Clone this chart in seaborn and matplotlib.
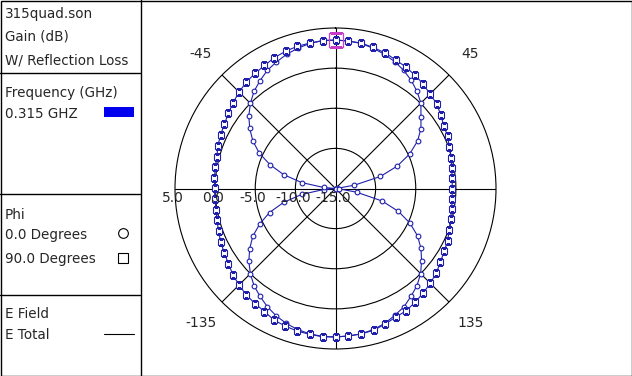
import numpy as np
import pandas as pd
import matplotlib
matplotlib.use("Agg")
import matplotlib.pyplot as plt
from matplotlib.lines import Line2D
from matplotlib.patches import Rectangle
import seaborn as sns

# theta (deg) from -180 to 180, step 5
THETA_DEG = list(range(-180, 185, 5))

# Phi = 0.0 deg (circles)
GAIN_PHI0 = [
    3.5, 3.5, 3.4, 3.2, 2.9, 2.5, 2.0, 1.4, 0.8, 0.0,
    -0.9, -1.95, -3.1, -4.6, -6.25, -8.3, -10.7, -13.5, -15.0, -13.5,
    -10.7, -8.3, -6.3, -4.5, -3.1, -1.95, -0.9, 0.0, 0.8, 1.4,
    2.0, 2.4, 2.8, 3.1, 3.35, 3.5, 3.5, 3.45, 3.35, 3.1,
    2.8, 2.45, 2.0, 1.45, 0.8, 0.05, -1.1, -2.0, -3.2, -4.8,
    -6.8, -9.2, -12.6, -14.8, -15.0, -14.5, -12.3, -9.0, -6.65, -4.75,
    -3.2, -2.0, -1.0, 0.0, 0.8, 1.4, 2.04, 2.45, 2.9, 3.2,
    3.4, 3.45, 3.5,
]

# Phi = 90.0 deg (squares)
GAIN_PHI90 = [
    3.5, 3.55, 3.45, 3.4, 3.25, 3.1, 2.7, 2.5, 2.3, 2.0,
    1.7, 1.3, 1.0, 0.8, 0.5, 0.3, 0.1, 0.1, 0.05, 0.15,
    0.2, 0.3, 0.6, 0.8, 1.0, 1.3, 1.65, 2.0, 2.3, 2.5,
    2.7, 3.0, 3.2, 3.35, 3.4, 3.5, 3.5, 3.45, 3.4, 3.2,
    3.0, 2.7, 2.5, 2.25, 2.0, 1.65, 1.45, 1.0, 0.6, 0.4,
    0.1, -0.1, -0.3, -0.4, -0.46, -0.4, -0.3, -0.15, 0.1, 0.4,
    0.65, 0.95, 1.4, 1.7, 2.0, 2.3, 2.6, 2.7, 3.0, 3.3,
    3.4, 3.45, 3.5,
]

RING_LEVELS = [5.0, 0.0, -5.0, -10.0, -15.0]
RING_LABELS = ["5.0", "0.0", "-5.0", "-10.0", "-15.0"]
ANGLE_TICKS = [-45, 45, -135, 135]
ANGLE_LABELS = ["-45", "45", "-135", "135"]

PANEL_TEXT = [
    ("315quad.son", 18),
    ("Gain (dB)", 41),
    ("W/ Reflection Loss", 65),
    ("Frequency (GHz)", 97),
    ("0.315 GHZ", 118),
    ("Phi", 219),
    ("0.0 Degrees", 239),
    ("90.0 Degrees", 263),
    ("E Field", 318),
    ("E Total", 339),
]

CURVE = "#1f1fac"
W, H = 632, 376

sns.set_style("white")
plt.rcParams["font.family"] = ["DejaVu Sans"]
plt.rcParams["font.size"] = 9.75

df = pd.DataFrame({
    "theta": np.deg2rad(THETA_DEG * 2),
    "gain": GAIN_PHI0 + GAIN_PHI90,
    "phi": ["0.0"] * len(THETA_DEG) + ["90.0"] * len(THETA_DEG),
})


def fx(px):
    return px / W


def fy(py):
    return 1 - py / H


fig = plt.figure(figsize=(W / 100, H / 100), dpi=100)
fig.patch.set_facecolor("white")

cx, cy, rad = 335.5, 188.5, 160.5
ax = fig.add_axes([fx(cx - rad), fy(cy + rad), 2 * rad / W, 2 * rad / H],
                  projection="polar")
ax.set_theta_zero_location("N")
ax.set_theta_direction(-1)
ax.set_rlim(-15, 5)
ax.set_rgrids([-10, -5, 0], labels=[""] * 3)
ax.set_thetagrids(range(0, 360, 45), labels=[""] * 8)
ax.grid(True, color="black", linewidth=0.8)
ax.spines["polar"].set_color("black")
ax.spines["polar"].set_linewidth(0.8)
ax.set_facecolor("white")

sns.lineplot(data=df[df.phi == "0.0"], x="theta", y="gain", ax=ax,
             color=CURVE, linewidth=0.8, marker="o", markersize=3.4,
             markerfacecolor="white", markeredgecolor=CURVE,
             markeredgewidth=0.8, estimator=None, sort=False, legend=False)
sns.lineplot(data=df[df.phi == "90.0"], x="theta", y="gain", ax=ax,
             color=CURVE, linewidth=0.8, marker="s", markersize=3.9,
             markerfacecolor="white", markeredgecolor=CURVE,
             markeredgewidth=0.8, estimator=None, sort=False, legend=False)

# selected point marker
i0 = THETA_DEG.index(0)
ax.plot([np.deg2rad(THETA_DEG[i0])], [GAIN_PHI90[i0]], marker="s",
        markersize=10.5, markerfacecolor="none", markeredgecolor="#c83cc8",
        markeredgewidth=0.9, linestyle="none")

ax.set_xlabel("")
ax.set_ylabel("")

for lvl, lbl in zip(RING_LEVELS, RING_LABELS):
    ax.annotate(lbl, xy=(np.deg2rad(-90), lvl), xytext=(-2, -3),
                textcoords="offset pixels", ha="center", va="top",
                fontsize=10, annotation_clip=False)

for ang, lbl in zip(ANGLE_TICKS, ANGLE_LABELS):
    ax.text(np.deg2rad(ang), 8.75, lbl, ha="center", va="center",
            fontsize=10, clip_on=False)

# left panel
for txt, base in PANEL_TEXT:
    fig.text(fx(5), fy(base), txt, ha="left", va="baseline", fontsize=9.75)

for ysep in [73, 194, 295]:
    fig.add_artist(Line2D([0, fx(140)], [fy(ysep), fy(ysep)],
                          color="black", linewidth=1))
fig.add_artist(Line2D([fx(140.5), fx(140.5)], [0, 1], color="black",
                      linewidth=1))
fig.add_artist(Rectangle((fx(0.5), fy(375.5)), fx(631), 375 / H,
                         fill=False, edgecolor="black", linewidth=1))

fig.add_artist(Rectangle((fx(104), fy(117)), fx(30), 10 / H,
                         facecolor="#0000ee", edgecolor="none"))
fig.add_artist(Line2D([fx(123)], [fy(233)], marker="o", markersize=7,
                      markerfacecolor="white", markeredgecolor="black",
                      markeredgewidth=0.8))
fig.add_artist(Line2D([fx(123)], [fy(257.5)], marker="s", markersize=7.5,
                      markerfacecolor="white", markeredgecolor="black",
                      markeredgewidth=0.8))
fig.add_artist(Line2D([fx(104), fx(134)], [fy(334), fy(334)],
                      color="black", linewidth=0.8))

fig.savefig("out.png", dpi=100)
